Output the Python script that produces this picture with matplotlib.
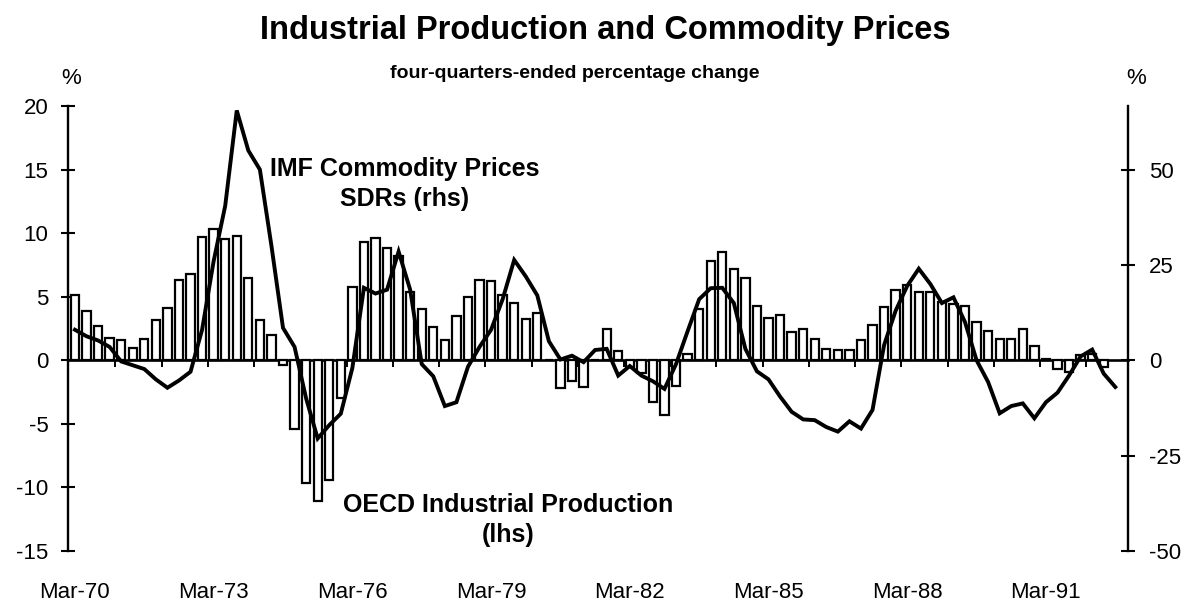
import matplotlib

matplotlib.use("Agg")
import matplotlib.pyplot as plt
import numpy as np

# quarterly data, index 0 = Mar-70
IP_CHANGE = [
    5.15, 3.9, 2.7, 1.75, 1.6, 1.0, 1.7, 3.2, 4.1, 6.35,
    6.8, 9.7, 10.3, 9.55, 9.75, 6.5, 3.2, 1.95, -0.4, -5.4,
    -9.65, -11.1, -9.4, -3.0, 5.75, 9.3, 9.6, 8.8, 8.2, 5.4,
    4.0, 2.6, 1.6, 3.5, 5.0, 6.3, 6.25, 5.1, 4.5, 3.25,
    3.75, 0.0, -2.2, -1.6, -2.1, 0.0, 2.5, 0.7, -0.5, -1.0,
    -3.3, -4.3, -2.0, 0.5, 4.0, 7.8, 8.55, 7.15, 6.45, 4.3,
    3.3, 3.6, 2.2, 2.5, 1.65, 0.85, 0.8, 0.8, 1.6, 2.8,
    4.2, 5.55, 5.9, 5.4, 5.4, 4.6, 4.45, 4.25, 3.0, 2.3,
    1.7, 1.7, 2.45, 1.1, 0.1, -0.65, -0.9, 0.4, 0.5, -0.5,
]

IMF_PRICES_SDR = [
    8.0, 6.3, 5.2, 3.5, -0.3, -1.3, -2.3, -5.0, -7.2, -5.3,
    -3.0, 8.0, 26.0, 40.5, 65.5, 55.0, 50.0, 30.0, 8.5, 3.5,
    -10.0, -20.5, -17.0, -14.0, -2.0, 19.0, 17.5, 18.5, 28.5, 18.5,
    -1.0, -4.2, -12.0, -11.0, -1.7, 3.5, 8.0, 16.0, 26.3, 22.0,
    17.0, 5.0, 0.2, 1.2, -0.5, 2.7, 3.0, -4.0, -1.5, -4.0,
    -5.5, -7.5, -1.0, 7.6, 16.0, 18.9, 19.0, 15.0, 3.0, -2.9,
    -5.0, -9.5, -13.5, -15.5, -15.7, -17.5, -18.7, -16.0, -17.9, -13.0,
    4.0, 13.0, 19.5, 24.0, 20.0, 15.0, 16.5, 10.0, 0.0, -5.7,
    -13.9, -12.0, -11.3, -15.2, -11.0, -8.5, -4.0, 1.0, 2.8, -3.5,
    -7.0,
]

X_LABELS = ["Mar-70", "Mar-73", "Mar-76", "Mar-79", "Mar-82", "Mar-85", "Mar-88", "Mar-91"]
LEFT_TICKS = [-15, -10, -5, 0, 5, 10, 15, 20]
RIGHT_TICKS = [-50, -25, 0, 25, 50]

W, H = 1202, 605


def fig_xy(px, py):
    return px / W, 1 - py / H


def main() -> None:
    plt.rcParams["font.family"] = ["Liberation Sans", "DejaVu Sans"]

    fig = plt.figure(figsize=(W / 100, H / 100), dpi=100)
    ax = fig.add_axes([68 / W, 54 / H, (1128 - 68) / W, (551 - 106) / H])
    ax2 = ax.twinx()

    q_bar = np.arange(len(IP_CHANGE))
    q_line = np.arange(len(IMF_PRICES_SDR))

    ax.bar(q_bar, IP_CHANGE, width=0.72, color="white", edgecolor="black", linewidth=1.6, zorder=2)
    ax2.plot(q_line, IMF_PRICES_SDR, color="black", linewidth=2.8, solid_joinstyle="miter", zorder=3)

    ax.set_xlim(-0.6, 91.1)
    ax.set_ylim(-15, 20)
    ax2.set_ylim(-50, 200 / 3)

    for spine in ("top", "bottom", "right"):
        ax.spines[spine].set_visible(False)
    for spine in ("top", "bottom", "left"):
        ax2.spines[spine].set_visible(False)
    ax.spines["left"].set_linewidth(1.7)
    ax2.spines["right"].set_linewidth(1.7)

    ax.set_yticks(LEFT_TICKS)
    ax.set_yticklabels([str(t) for t in LEFT_TICKS])
    ax.tick_params(axis="y", direction="inout", length=10, width=1.5, pad=9, labelsize=16)
    ax2.set_yticks(RIGHT_TICKS)
    ax2.set_yticklabels([str(t) for t in RIGHT_TICKS])
    ax2.tick_params(axis="y", direction="inout", length=10, width=1.5, pad=10, labelsize=16)

    ax.set_xticks(np.arange(0, 85, 12))
    ax.set_xticklabels(X_LABELS)
    ax.tick_params(axis="x", length=0, pad=22, labelsize=16)

    # zero line with year ticks
    zero_axis = ax.secondary_xaxis(15 / 35)
    zero_axis.set_xticks(np.arange(3.5, 88, 4))
    zero_axis.tick_params(direction="out", length=5, width=1.4, labelbottom=False)
    zero_axis.spines["bottom"].set_linewidth(1.9)

    fig.text(*fig_xy(605, 30), "Industrial Production and Commodity Prices",
             ha="center", va="center", fontsize=23.5, fontweight="bold")
    fig.text(*fig_xy(575, 73), "four-quarters-ended percentage change",
             ha="center", va="center", fontsize=14, fontweight="bold")
    fig.text(*fig_xy(71, 78), "%", ha="center", va="center", fontsize=16)
    fig.text(*fig_xy(1136, 78), "%", ha="center", va="center", fontsize=16)

    fig.text(*fig_xy(405, 184), "IMF Commodity Prices\nSDRs (rhs)", ha="center", va="center",
             fontsize=18, fontweight="bold", linespacing=1.35, multialignment="center")
    fig.text(*fig_xy(508, 520), "OECD Industrial Production\n(lhs)", ha="center", va="center",
             fontsize=18, fontweight="bold", linespacing=1.35, multialignment="center")

    fig.savefig("out.png", dpi=100)
    plt.close(fig)


if __name__ == "__main__":
    main()
